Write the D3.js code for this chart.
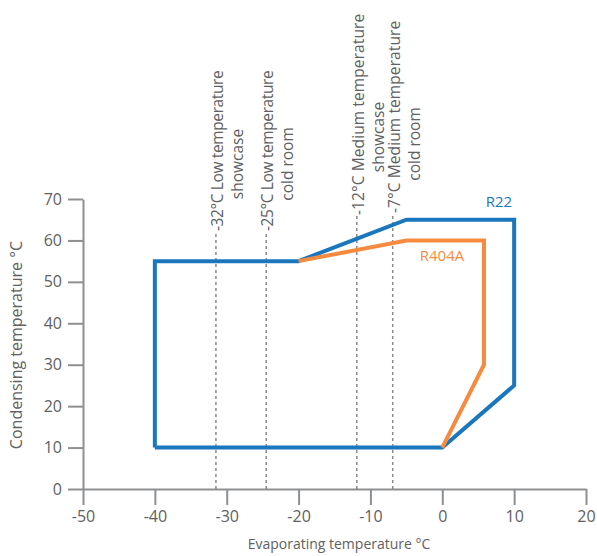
<!DOCTYPE html>
<html>
<head>
<meta charset="utf-8">
<script src="https://cdn.jsdelivr.net/npm/d3@7"></script>
<style>
  body { margin: 0; background: #fff; }
  text { font-family: "Open Sans", "Noto Sans", sans-serif; }
</style>
</head>
<body>
<div id="chart"></div>
<script>
// Data
//= ================================
var xTicks = [-50, -40, -30, -20, -10, 0, 10, 20];
var yTicks = [0, 10, 20, 30, 40, 50, 60, 70];

// R22 envelope (closed)
var r22Evap = [-40, -40, -20, -5, 10, 10, 0, -40];
var r22Cond = [10, 55, 55, 65, 65, 25, 10, 10];

// R404A envelope (open, shares the R22 edges)
var r404aEvap = [-20, -5, 5.8, 5.8, 0];
var r404aCond = [55, 60, 60, 30, 10];

// Application temperatures
var appTemps = [-31.5, -24.5, -11.9, -6.9];
var appLine1 = ["-32°C Low temperature", "-25°C Low temperature", "-12°C Medium temperature", "-7°C Medium temperature"];
var appLine2 = ["showcase", "cold room", "showcase", "cold room"];

// Setup the chart
//= ================================
var svgWidth = 597;
var svgHeight = 556;

var margin = { top: 199, right: 11, bottom: 67, left: 83 };
var width = svgWidth - margin.left - margin.right;
var height = svgHeight - margin.top - margin.bottom;

var axisColor = "#8d8f91";
var textColor = "#606163";
var blue = "#1a77be";
var orange = "#f68b40";

var svg = d3.select("#chart")
    .append("svg")
    .attr("width", svgWidth)
    .attr("height", svgHeight);

var chartGroup = svg.append("g")
    .attr("transform", `translate(${margin.left}, ${margin.top})`);

var xScale = d3.scaleLinear().domain([-50, 20]).range([0, width]);
var yScale = d3.scaleLinear().domain([0, 70]).range([height, 0]);

// Axes
var bottomAxis = d3.axisBottom(xScale).tickValues(xTicks).tickFormat(d => String(d))
    .tickSize(16).tickSizeOuter(0).tickPadding(6);
var leftAxis = d3.axisLeft(yScale).tickValues(yTicks).tickFormat(d => String(d))
    .tickSize(15).tickSizeOuter(0).tickPadding(6);

var xAxis = chartGroup.append("g")
    .attr("transform", `translate(0, ${height})`)
    .call(bottomAxis);

var yAxis = chartGroup.append("g")
    .call(leftAxis);

[xAxis, yAxis].forEach(function (ax) {
    ax.selectAll("path, line").attr("stroke", axisColor).attr("stroke-width", 2);
    ax.selectAll("text").attr("fill", textColor).attr("font-size", "16px")
        .attr("font-family", "'Open Sans', 'Noto Sans', sans-serif");
});

// Application dashed lines and labels
var lineTop = [232, 232, 216, 214];   // pixel y where the dashes stop
var line2Mid = [164, 164, 137, 144];  // pixel y of the second label line centre
var labelSpacing = [-0.38, -0.38, 0.1, 0.1];

appTemps.forEach(function (t, i) {
    var x = xScale(t);
    chartGroup.append("line")
        .attr("x1", x).attr("x2", x)
        .attr("y1", height).attr("y2", lineTop[i] - margin.top)
        .attr("stroke", "#8a8a8a")
        .attr("stroke-width", 1.5)
        .attr("stroke-dasharray", "3,3");

    svg.append("text")
        .attr("transform", `translate(${margin.left + x + 7}, ${lineTop[i] - 1}) rotate(-90)`)
        .attr("fill", textColor)
        .attr("font-size", "15.5px")
        .attr("letter-spacing", labelSpacing[i] + "px")
        .text(appLine1[i]);

    svg.append("text")
        .attr("transform", `translate(${margin.left + x + 27}, ${line2Mid[i]}) rotate(-90)`)
        .attr("text-anchor", "middle")
        .attr("fill", textColor)
        .attr("font-size", "15.5px")
        .text(appLine2[i]);
});

// Envelopes
var line = d3.line()
    .x(d => xScale(d[0]))
    .y(d => yScale(d[1]));

chartGroup.append("path")
    .datum(r22Evap.map((e, i) => [e, r22Cond[i]]))
    .attr("d", line)
    .attr("fill", "none")
    .attr("stroke", blue)
    .attr("stroke-width", 4)
    .attr("stroke-linejoin", "miter");

chartGroup.append("path")
    .datum(r404aEvap.map((e, i) => [e, r404aCond[i]]))
    .attr("d", line)
    .attr("fill", "none")
    .attr("stroke", orange)
    .attr("stroke-width", 4)
    .attr("stroke-linejoin", "miter");

// Series labels
chartGroup.append("text")
    .attr("x", xScale(10) - 2)
    .attr("y", yScale(65) - 13)
    .attr("text-anchor", "end")
    .attr("fill", blue)
    .attr("font-size", "15px")
    .text("R22");

chartGroup.append("text")
    .attr("x", xScale(-3) - 1)
    .attr("y", yScale(60) + 21)
    .attr("fill", orange)
    .attr("font-size", "15px")
    .text("R404A");

// Axis labels
svg.append("text")
    .attr("x", 339)
    .attr("y", 549)
    .attr("text-anchor", "middle")
    .attr("fill", textColor)
    .attr("font-size", "14px")
    .text("Evaporating temperature °C");

svg.append("text")
    .attr("transform", "translate(22, 345) rotate(-90)")
    .attr("text-anchor", "middle")
    .attr("fill", textColor)
    .attr("font-size", "16px")
    .text("Condensing temperature °C");
</script>
</body>
</html>
